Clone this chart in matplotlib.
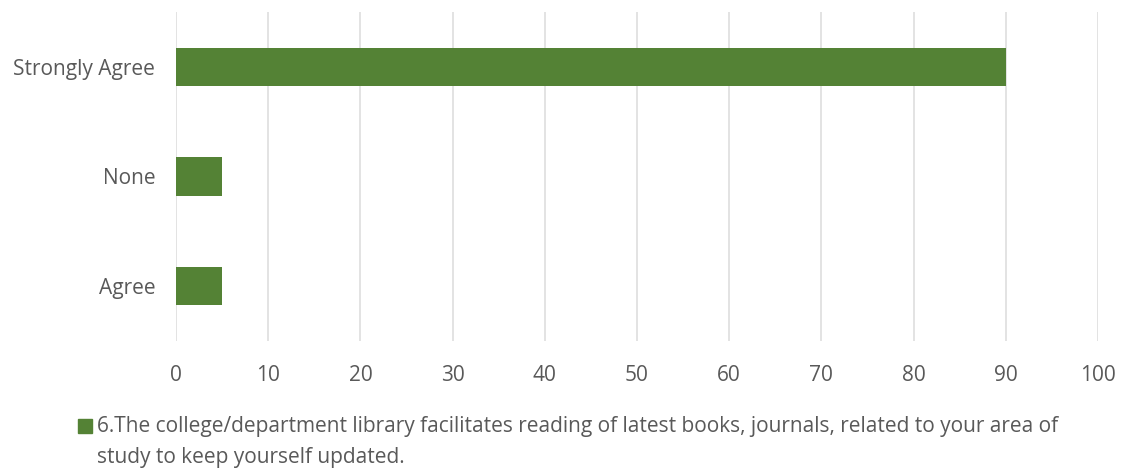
import matplotlib.pyplot as plt
from matplotlib.patches import Rectangle

categories = ["Agree", "None", "Strongly Agree"]
values = [5, 5, 90]
series_label = ("6.The college/department library facilitates reading of latest books, journals, related to your area of\n"
                "study to keep yourself updated.")

plt.rcParams['font.family'] = ['Open Sans', 'DejaVu Sans']
text_color = "#595959"
bar_color = "#548235"
W, H = 1124, 470

fig = plt.figure(figsize=(11.24, 4.70), dpi=100)
ax = fig.add_axes([176 / W, 1 - 341 / H, (1098 - 176) / W, (341 - 12) / H])

ax.barh(categories, values, height=0.35, color=bar_color, zorder=3)

ax.set_xlim(0, 100)
ax.set_ylim(-0.5, 2.5)
ax.set_xticks(range(0, 101, 10))
ax.grid(axis='x', color="#e0e0e0", linewidth=1.3, zorder=0)
for s in ax.spines.values():
    s.set_visible(False)
ax.tick_params(axis='both', length=0, labelsize=15, colors=text_color)
ax.tick_params(axis='y', pad=15)
ax.tick_params(axis='x', pad=17)

# legend drawn by hand so the swatch sits by the first line
fig.patches.append(Rectangle((78 / W, 1 - 433 / H), 14 / W, 14 / H, transform=fig.transFigure,
                             color=bar_color, figure=fig))
fig.text(97 / W, 1 - 416 / H, series_label, ha='left', va='top', fontsize=15,
         color=text_color, linespacing=1.6)

fig.savefig("out.png", dpi=100)
